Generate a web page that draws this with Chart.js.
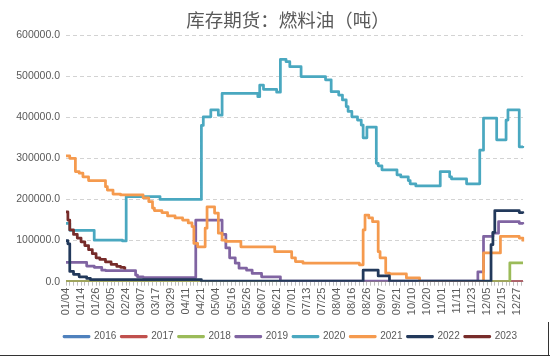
<!DOCTYPE html>
<html><head><meta charset="utf-8">
<script src="https://cdn.jsdelivr.net/npm/chart.js@4.4.1/dist/chart.umd.min.js"></script>
<style>html,body{margin:0;padding:0;background:#fff;}#wrap{width:550px;height:356px;position:relative;}</style>
</head><body><div id="wrap"><canvas id="c" width="550" height="356"></canvas></div>
<script>
// Category axis: trading dates (mm/dd)
const dates = [
'01/04','01/05','01/06','01/07','01/08','01/11','01/12','01/13',
'01/14','01/15','01/18','01/19','01/20','01/21','01/22','01/25',
'01/26','01/27','01/28','01/29','02/01','02/02','02/03','02/04',
'02/05','02/08','02/09','02/10','02/18','02/21','02/22','02/23',
'02/24','02/25','02/26','02/28','03/01','03/02','03/03','03/04',
'03/07','03/08','03/09','03/10','03/11','03/14','03/15','03/16',
'03/17','03/18','03/21','03/22','03/23','03/24','03/25','03/28',
'03/29','03/30','03/31','04/01','04/06','04/07','04/08','04/10',
'04/11','04/12','04/13','04/14','04/15','04/18','04/19','04/20',
'04/21','04/22','04/25','04/26','04/27','04/28','04/29','05/03',
'05/04','05/05','05/06','05/09','05/10','05/11','05/12','05/13',
'05/16','05/17','05/18','05/19','05/20','05/23','05/24','05/25',
'05/26','05/27','05/30','05/31','06/01','06/02','06/03','06/06',
'06/07','06/08','06/13','06/14','06/15','06/16','06/17','06/20',
'06/21','06/22','06/23','06/24','06/27','06/28','06/29','06/30',
'07/01','07/04','07/05','07/06','07/07','07/08','07/11','07/12',
'07/13','07/14','07/15','07/18','07/19','07/20','07/21','07/22',
'07/25','07/26','07/27','07/28','07/29','08/01','08/02','08/03',
'08/04','08/05','08/08','08/09','08/10','08/11','08/12','08/15',
'08/16','08/17','08/18','08/19','08/22','08/23','08/24','08/25',
'08/26','08/29','08/30','08/31','09/01','09/02','09/05','09/06',
'09/07','09/08','09/09','09/13','09/14','09/15','09/16','09/20',
'09/21','09/22','09/23','09/26','09/27','09/28','09/29','09/30',
'10/10','10/11','10/12','10/13','10/14','10/17','10/18','10/19',
'10/20','10/21','10/24','10/25','10/26','10/27','10/28','10/31',
'11/01','11/02','11/03','11/04','11/07','11/08','11/09','11/10',
'11/11','11/14','11/15','11/16','11/17','11/18','11/21','11/22',
'11/23','11/24','11/25','11/28','11/29','11/30','12/01','12/02',
'12/05','12/06','12/07','12/08','12/09','12/12','12/13','12/14',
'12/15','12/16','12/19','12/20','12/21','12/22','12/23','12/26',
'12/27','12/28','12/29','12/30'
];

const yTicks = [0, 100000, 200000, 300000, 400000, 500000, 600000];
const seriesNames = ['2016','2017','2018','2019','2020','2021','2022','2023'];

// Each series: [date, inventory (tonnes)] at the dates where the level changes
const s2016 = [['01/04',0],['12/30',0]];
const s2017 = [['01/04',0],['12/30',0]];
const s2018 = [['01/04',0],['12/20',0],['12/21',46000],['12/30',46000]];
const s2019 = [
['01/04',47000],['01/19',38000],['01/25',35000],['01/29',28000],['02/02',27000],
['03/02',16000],['03/03',12000],['03/08',10000],['04/15',10000],['04/18',150000],
['05/06',150000],['05/09',115000],['05/11',82000],['05/13',58000],['05/18',45000],
['05/20',33000],['05/26',28000],['05/31',20000],['06/07',12000],['06/23',1500],
['11/28',24000],['12/01',110000],['12/08',118000],['12/13',146000],['12/28',142000],['12/30',140000]
];
const s2020 = [
['01/04',142000],['01/06',125000],['01/25',101000],['02/22',99000],['02/24',207000],
['03/21',200000],['04/21',380000],['04/22',401000],['04/28',418000],['05/05',405000],
['05/09',458000],['06/03',450000],['06/06',478000],['06/08',468000],['06/21',461000],
['06/23',541000],['06/28',535000],['06/30',523000],['07/08',499000],['07/27',491000],
['08/01',462000],['08/05',454000],['08/09',442000],['08/11',426000],['08/12',414000],
['08/16',401000],['08/19',393000],['08/23',381000],['08/24',350000],['08/26',376000],
['09/02',288000],['09/05',282000],['09/07',272000],['09/21',260000],['09/23',255000],
['09/29',246000],['09/30',238000],['10/12',233000],['10/31',268000],['11/07',255000],
['11/08',250000],['11/18',238000],['11/29',320000],['12/01',398000],['12/12',345000],
['12/19',393000],['12/20',418000],['12/28',328000],['12/30',330000]
];
const s2021 = [
['01/04',306000],['01/06',300000],['01/11',268000],['01/13',264000],['01/15',255000],
['01/20',246000],['02/02',231000],['02/03',223000],['02/08',213000],['02/21',211000],
['03/08',204000],['03/11',195000],['03/15',179000],['03/16',173000],['03/22',168000],
['03/25',160000],['03/31',155000],['04/08',150000],['04/12',143000],['04/14',134000],
['04/15',93000],['04/19',85000],['04/25',130000],['04/26',182000],['05/03',167000],
['05/05',118000],['05/09',101000],['05/11',98000],['05/23',85000],['06/20',73000],
['07/01',58000],['07/05',49000],['07/11',45000],['08/22',41000],['08/24',126000],
['08/25',162000],['08/29',155000],['08/31',146000],['09/05',73000],['09/06',58000],
['09/09',21000],['09/14',19000],['09/28',9000],['10/14',0],['11/30',0],['12/01',70000],
['12/14',110000],['12/28',106000],['12/30',98000]
];
const s2022 = [
['01/04',100000],['01/05',92000],['01/06',25000],['01/08',18000],['01/13',12000],
['01/19',8000],['01/21',5000],['04/21',1500],['08/24',28000],['09/05',14000],
['09/14',1500],['12/06',1500],['12/07',90000],['12/08',120000],['12/09',173000],
['12/28',168000],['12/30',166000]
];
const s2023 = [
['01/04',170000],['01/05',150000],['01/06',126000],['01/08',115000],['01/12',106000],
['01/14',97000],['01/18',88000],['01/20',78000],['01/22',68000],['01/26',58000],
['01/28',54000],['02/02',48000],['02/05',42000],['02/10',37000],['02/21',35000],
['02/23',33000],['02/24',33000]
];

const seriesData = [s2016, s2017, s2018, s2019, s2020, s2021, s2022, s2023];
const colors = ['#4F81BD','#C0504D','#9BBB59','#8064A2','#4AA8C0','#F59A4E','#22395B','#772C2A'];

const datasets = seriesNames.map((name, k) => ({
  label: name,
  data: seriesData[k].map(([d, v]) => ({x: d, y: v})),
  borderColor: colors[k],
  backgroundColor: colors[k],
  borderWidth: 2.75,
  pointRadius: 0,
  stepped: true,
  borderJoinStyle: 'round',
  order: seriesNames.length - k
}));

const layoutTweaks = {
  id: 'layoutTweaks',
  afterLayout(chart) {
    const t = chart.titleBlock;
    if (t) { t.left += 26.5; t.right += 26.5; }
    const l = chart.legend;
    if (l) { l.left += 29; l.right += 29; }
  },
  afterDraw(chart) {
    const ctx = chart.ctx;
    ctx.save();
    ctx.strokeStyle = '#333333';
    ctx.lineWidth = 1;
    ctx.beginPath();
    ctx.moveTo(0, 355.5); ctx.lineTo(550, 355.5);
    ctx.moveTo(548.5, 322); ctx.lineTo(548.5, 356);
    ctx.stroke();
    ctx.restore();
  }
};

new Chart(document.getElementById('c'), {
  type: 'line',
  data: { labels: dates, datasets },
  plugins: [layoutTweaks],
  options: {
    responsive: false,
    animation: false,
    devicePixelRatio: 1,
    layout: { padding: { left: 0, right: 27, top: 0, bottom: 4.5 } },
    plugins: {
      title: {
        display: true,
        text: '库存期货：燃料油（吨）',
        color: '#595959',
        font: { family: '"Noto Sans CJK SC", sans-serif', size: 18.5, weight: 'normal' },
        padding: { top: 8.4, bottom: 4.4 }
      },
      legend: {
        position: 'bottom',
        labels: {
          boxWidth: 25, boxHeight: 0.5, padding: 5,
          color: '#595959',
          font: { family: '"Liberation Sans", Arial, sans-serif', size: 10 },
          sort: (a, b) => a.datasetIndex - b.datasetIndex
        }
      },
      tooltip: { enabled: false }
    },
    scales: {
      x: {
        type: 'category',
        offset: false,
        grid: {
          display: true, drawOnChartArea: false, drawTicks: true, tickLength: 4,
          tickColor: (ctx) => (ctx.index % 2 === 0 ? '#BFBFBF' : 'rgba(0,0,0,0)')
        },
        border: { display: true, color: '#D9D9D9' },
        ticks: {
          autoSkip: false, minRotation: 90, maxRotation: 90, padding: 2,
          color: '#595959',
          font: { family: '"Liberation Sans", Arial, sans-serif', size: 11 },
          callback: function (value, index) { return index % 8 === 0 ? dates[index] : ''; }
        },
        afterFit: (s) => { s.height = 44.8; }
      },
      y: {
        min: 0, max: 600000,
        afterBuildTicks: (s) => { s.ticks = yTicks.map(v => ({ value: v })); },
        ticks: {
          padding: 6, color: '#595959',
          font: { family: '"Liberation Sans", Arial, sans-serif', size: 10.5 },
          callback: (v) => Number(v).toFixed(1)
        },
        grid: { color: '#D3D3D3', drawTicks: false },
        border: { display: false, dash: [4, 3] },
        afterFit: (s) => { s.width = 66; }
      }
    }
  }
});
</script>
</body></html>
